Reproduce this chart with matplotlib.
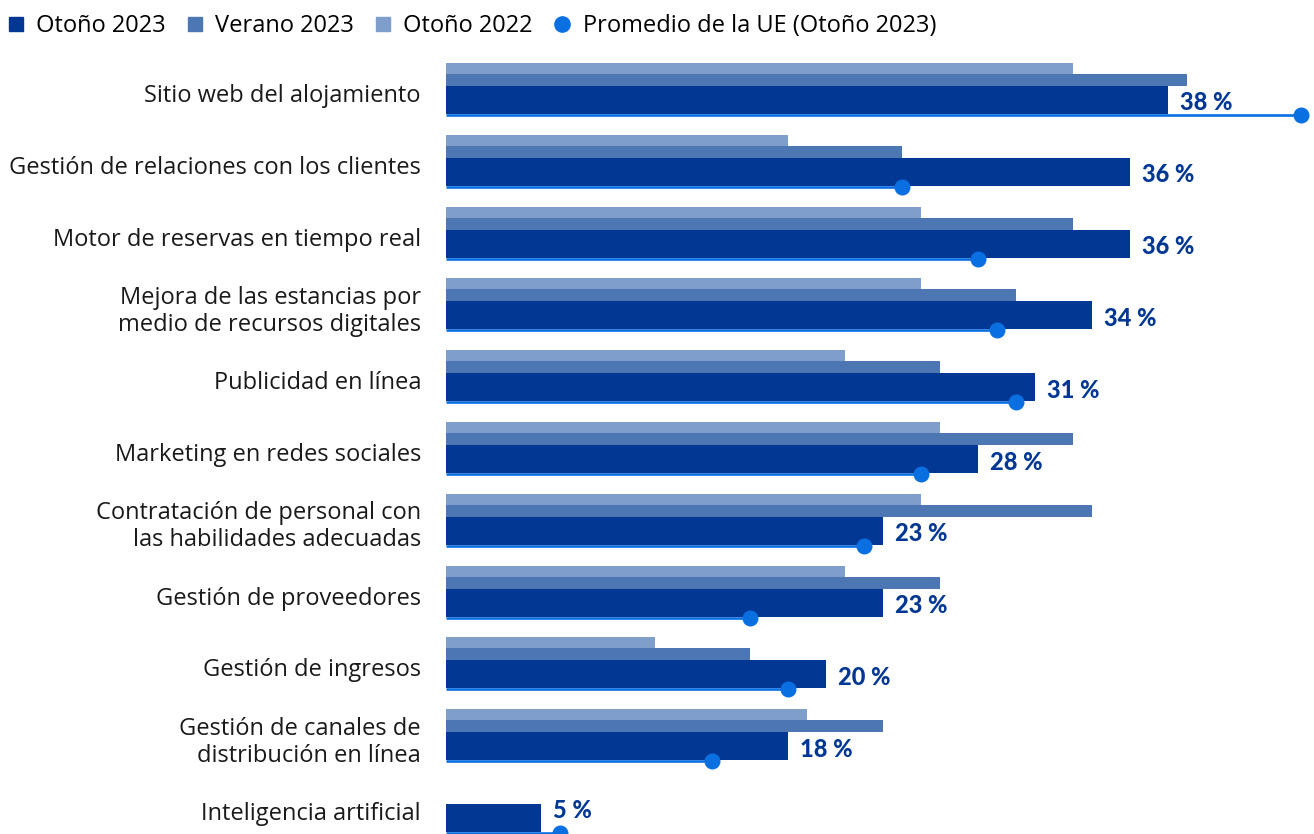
import matplotlib
matplotlib.use("Agg")
import matplotlib.pyplot as plt
from matplotlib.lines import Line2D

plt.rcParams['font.family'] = ['Open Sans', 'DejaVu Sans']

# Categories (top to bottom)
categories = [
    "Sitio web del alojamiento",
    "Gestión de relaciones con los clientes",
    "Motor de reservas en tiempo real",
    "Mejora de las estancias por\nmedio de recursos digitales",
    "Publicidad en línea",
    "Marketing en redes sociales",
    "Contratación de personal con\nlas habilidades adecuadas",
    "Gestión de proveedores",
    "Gestión de ingresos",
    "Gestión de canales de\ndistribución en línea",
    "Inteligencia artificial",
]

# Shares of establishments (%)
otono_2023 = [38, 36, 36, 34, 31, 28, 23, 23, 20, 18, 5]
verano_2023 = [39, 24, 33, 30, 26, 33, 34, 26, 16, 23, None]
otono_2022 = [33, 18, 25, 25, 21, 26, 25, 21, 11, 19, None]
promedio_ue = [45, 24, 28, 29, 30, 25, 22, 16, 18, 14, 6]

series_labels = ["Otoño 2023", "Verano 2023", "Otoño 2022", "Promedio de la UE (Otoño 2023)"]

c_dark = "#023894"
c_mid = "#4d77b3"
c_light = "#7f9ec9"
c_eu = "#0a6fe0"

W, H = 1314, 834
fig = plt.figure(figsize=(W / 100, H / 100), dpi=100)
left_px = 446
ax = fig.add_axes([left_px / W, 0, 1 - left_px / W, 1])

px_per_pct = 19.0
group_px = 71.8
ax.set_xlim(0, (W - left_px) / px_per_pct)
top_d = -100 / group_px
bot_d = (H - 100) / group_px
ax.set_ylim(bot_d, top_d)
ax.axis("off")

ys = list(range(len(categories)))
h_dark = 28 / group_px
h_mid = 12 / group_px
h_light = 11 / group_px
off_mid = -20 / group_px
off_light = -31.5 / group_px
off_eu = 15 / group_px

for y, v22, v23s, v23, eu, cat in zip(ys, otono_2022, verano_2023, otono_2023, promedio_ue, categories):
    if v22 is not None:
        ax.barh(y + off_light, v22, height=h_light, color=c_light, linewidth=0, zorder=2)
    if v23s is not None:
        ax.barh(y + off_mid, v23s, height=h_mid, color=c_mid, linewidth=0, zorder=2)
    ax.barh(y, v23, height=h_dark, color=c_dark, linewidth=0, zorder=3)
    ax.plot([0, eu], [y + off_eu, y + off_eu], color=c_eu, lw=1.9,
            solid_capstyle="butt", zorder=4, clip_on=False)
    ax.plot([eu], [y + off_eu], marker="o", ms=11.5, color=c_eu,
            markeredgewidth=0, zorder=5, clip_on=False)
    # the short last bar has its dot right under the label, so lift that label
    lift = -7 if v23 < 10 else 3
    ax.text(v23 + 12 / px_per_pct, y + lift / group_px, f"{v23} %", ha="left", va="center",
            fontsize=17, fontweight="black", family=["Lato", "DejaVu Sans"],
            color=c_dark, zorder=6)
    ax.text(-25 / px_per_pct, y - 4 / group_px, cat, ha="right", va="center",
            fontsize=17, color="#1a1a1a", linespacing=1.16, clip_on=False)

handles = [
    Line2D([], [], marker="s", ls="none", color=c_dark, ms=10),
    Line2D([], [], marker="s", ls="none", color=c_mid, ms=10),
    Line2D([], [], marker="s", ls="none", color=c_light, ms=10),
    Line2D([], [], marker="o", ls="none", color=c_eu, ms=11),
]
fig.legend(handles, series_labels, loc="upper left", bbox_to_anchor=(-0.006, 1.0),
           ncol=4, frameon=False, prop={"size": 17},
           handlelength=0.8, handletextpad=0.45, columnspacing=0.85,
           borderaxespad=0.2)

fig.savefig("out.png", dpi=100)
